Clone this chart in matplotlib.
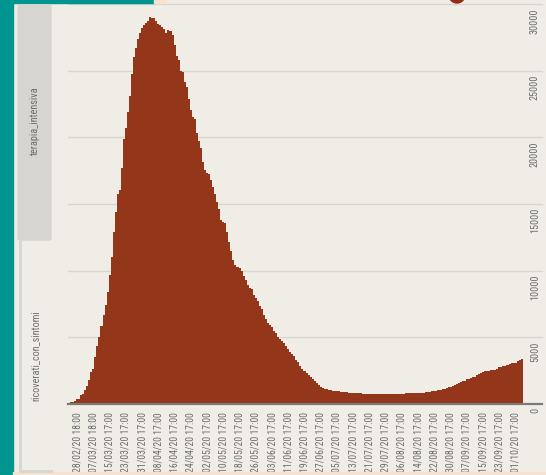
import numpy as np
import matplotlib.pyplot as plt
from matplotlib import font_manager
from matplotlib.patches import Rectangle, FancyBboxPatch, Ellipse
from matplotlib.lines import Line2D
import matplotlib.transforms as mtransforms

# ricoverati_con_sintomi, daily 24/02/20 .. 04/10/20
feb = [101, 114, 128, 248, 345, 401]
mar = [639, 742, 1034, 1346, 1790, 2394, 2651, 3557, 4316, 5038, 5838, 6650,
       7426, 8372, 9663, 11025, 12894, 14363, 15757, 16020, 17708, 19846,
       20692, 21937, 23112, 24753, 26029, 26676, 27386, 27795, 28192]
apr = [28403, 28540, 28741, 29010, 28949, 28976, 28718, 28485, 28399, 28242,
       28144, 27847, 28023, 28011, 27643, 26893, 26074, 25786, 25007, 24906,
       24134, 23805, 22871, 22068, 21533, 21372, 20353, 19723, 19210, 18149]
may = [17569, 17357, 17242, 16823, 16270, 15769, 15174, 14636, 13834, 13618,
       13539, 12865, 12172, 11453, 10792, 10400, 10311, 10207, 9991, 9624,
       9269, 8957, 8695, 8613, 8185, 7917, 7729, 7379, 7094, 6680, 6387]
jun = [6099, 5916, 5742, 5503, 5301, 5002, 4864, 4729, 4581, 4320, 4133, 3893,
       3747, 3594, 3301, 3126, 2867, 2653, 2474, 2300, 2180, 2040, 1840, 1720,
       1570, 1460, 1300, 1220, 1150, 1090]
jul = [1060, 1040, 1000, 980, 960, 940, 930, 900, 880, 870, 860, 850, 860, 830,
       810, 800, 790, 780, 770, 780, 770, 760, 750, 740, 730, 730, 740, 750,
       750, 750, 740]
aug = [730, 730, 760, 770, 780, 780, 780, 790, 800, 800, 810, 820, 830, 830,
       840, 850, 860, 880, 900, 910, 940, 970, 1000, 1040, 1080, 1120, 1160,
       1200, 1240, 1280, 1380]
sep = [1430, 1500, 1560, 1640, 1700, 1760, 1860, 1900, 1950, 2000, 2050, 2150,
       2250, 2330, 2400, 2450, 2500, 2510, 2520, 2530, 2580, 2650, 2760, 2800,
       2850, 2860, 2900, 3000, 3050, 3080]
octo = [3100, 3200, 3280, 3380]
values = feb + mar + apr + may + jun + jul + aug + sep + octo

tick_labels = ["28/02/20 18:00", "07/03/20 18:00", "15/03/20 17:00", "23/03/20 17:00",
               "31/03/20 17:00", "08/04/20 17:00", "16/04/20 17:00", "24/04/20 17:00",
               "02/05/20 17:00", "10/05/20 17:00", "18/05/20 17:00", "26/05/20 17:00",
               "03/06/20 17:00", "11/06/20 17:00", "19/06/20 17:00", "27/06/20 17:00",
               "05/07/20 17:00", "13/07/20 17:00", "21/07/20 17:00", "29/07/20 17:00",
               "06/08/20 17:00", "14/08/20 17:00", "22/08/20 17:00", "30/08/20 17:00",
               "07/09/20 17:00", "15/09/20 17:00", "23/09/20 17:00", "01/10/20 17:00"]
tick_pos = list(range(4, 4 + 8 * len(tick_labels), 8))
y_ticks = [0, 5000, 10000, 15000, 20000, 25000, 30000]
tabs = ["terapia_intensiva", "ricoverati_con_sintomi"]

# narrow font if there is one, else Roboto at a smaller size
names = {f.name for f in font_manager.fontManager.ttflist}
fam, fs = 'Roboto', 6.0
for cand in ['Roboto Condensed', 'Liberation Sans Narrow', 'Open Sans Condensed']:
    if cand in names:
        fam, fs = cand, 7.0
        break
plt.rcParams['font.family'] = [fam, 'DejaVu Sans']

W, H = 546, 475
bg = '#f0ede6'
teal = '#00968f'
peach = '#f6e3cf'
txt = '#6e6e6e'

fig = plt.figure(figsize=(W / 100, H / 100), dpi=100, facecolor=bg)

def fx(x):
    return x / W

def fy(y):
    return 1 - y / H

# page decoration
fig.patches.append(Rectangle((0, 0), fx(13), 1, transform=fig.transFigure,
                             color=teal, zorder=0))
fig.patches.append(Rectangle((fx(13), fy(3)), fx(141), 3 / H, transform=fig.transFigure,
                             color=teal, zorder=0))
fig.patches.append(Rectangle((fx(154), fy(3)), fx(12), 3 / H, transform=fig.transFigure,
                             color=peach, zorder=0))
fig.patches.append(Rectangle((fx(13), 0), 1, 3 / H, transform=fig.transFigure,
                             color=peach, zorder=0))
fig.patches.append(Ellipse((fx(457), fy(-5)), 16 / W, 16 / H, transform=fig.transFigure,
                           color='#962c12', zorder=1))

# tabs on the left
fig.patches.append(FancyBboxPatch((fx(18), fy(240)), fx(33), 235 / H,
                                  boxstyle='round,pad=0,rounding_size=0.004',
                                  transform=fig.transFigure, color='#d6d5d0', zorder=1))
fig.lines.append(Line2D([fx(19.5), fx(19.5), fx(51)], [fy(242), fy(470.5), fy(470.5)],
                        transform=fig.transFigure, color='#d9d7d1', lw=2.2, zorder=1))
fig.text(fx(35), fy(121), tabs[0], rotation=90, ha='center', va='center',
         fontsize=fs + 0.3, color=txt)
fig.text(fx(35), fy(356), tabs[1], rotation=90, ha='center', va='center',
         fontsize=fs + 0.3, color=txt)

ax = fig.add_axes([fx(68), fy(404), (542 - 68) / W, 400 / H])
ax.set_facecolor('none')
x = np.arange(len(values))
ax.bar(x, values, width=1.0, color='#94361a', linewidth=0, antialiased=False, zorder=2)
ax.set_xlim(-0.5, 233)
ax.set_ylim(0, 30000)

for v in y_ticks[1:]:
    ax.axhline(v, color='#d8d6d0', lw=1, zorder=1, clip_on=False)
ax.axhline(0, color='#7a7a78', lw=1.6, zorder=3, clip_on=False)

for s in ax.spines.values():
    s.set_visible(False)
ax.set_yticks([])
ax.set_xticks(tick_pos)
ax.set_xticklabels(tick_labels, rotation=90, fontsize=fs, color=txt)
ax.tick_params(axis='x', length=0, pad=6)

off = mtransforms.offset_copy(ax.get_yaxis_transform(), fig=fig, x=0, y=-4, units='dots')
for v in y_ticks:
    ax.text(0.985, v, str(v), transform=off, rotation=90, rotation_mode='anchor',
            ha='right', va='center', fontsize=fs + 0.3, color=txt, clip_on=False)

fig.savefig('out.png', dpi=100, facecolor=bg)
